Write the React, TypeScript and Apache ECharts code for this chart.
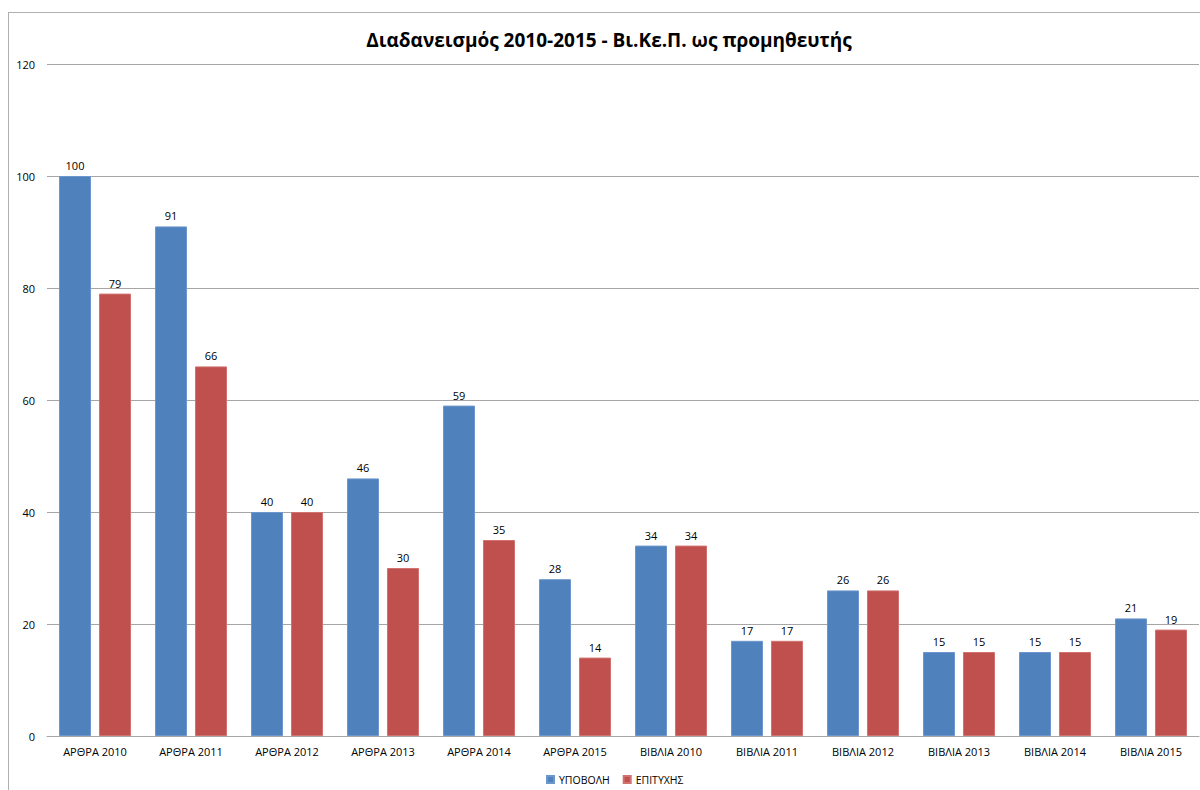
import React, { useEffect, useRef } from "react";
import * as echarts from "echarts";

const categories = [
  "ΑΡΘΡΑ 2010", "ΑΡΘΡΑ 2011", "ΑΡΘΡΑ 2012", "ΑΡΘΡΑ 2013", "ΑΡΘΡΑ 2014", "ΑΡΘΡΑ 2015",
  "ΒΙΒΛΙΑ 2010", "ΒΙΒΛΙΑ 2011", "ΒΙΒΛΙΑ 2012", "ΒΙΒΛΙΑ 2013", "ΒΙΒΛΙΑ 2014", "ΒΙΒΛΙΑ 2015",
];
const submitted = [100, 91, 40, 46, 59, 28, 34, 17, 26, 15, 15, 21];
const successful = [79, 66, 40, 30, 35, 14, 34, 17, 26, 15, 15, 19];
const seriesNames = ["ΥΠΟΒΟΛΗ", "ΕΠΙΤΥΧΗΣ"];
const titleText = "Διαδανεισμός 2010-2015 - Βι.Κε.Π. ως προμηθευτής";

const FONT = "'Open Sans', 'Noto Sans', sans-serif";

export default function App() {
  const ref = useRef<HTMLDivElement>(null);
  useEffect(() => {
    if (!ref.current) return;
    const chart = echarts.init(ref.current, undefined, { renderer: "svg" });
    const label = {
      show: true,
      position: "top" as const,
      distance: 5,
      color: "#000",
      fontSize: 11,
      fontFamily: FONT,
    };
    chart.setOption({
      animation: false,
      backgroundColor: "#fff",
      title: {
        text: titleText,
        left: 595,
        textAlign: "center",
        top: 12,
        textStyle: { fontFamily: FONT, fontSize: 19, fontWeight: "bold", color: "#000" },
      },
      legend: {
        data: seriesNames,
        left: 532,
        top: 756,
        itemWidth: 7,
        itemHeight: 7,
        itemGap: 13,
        icon: "rect",
        textStyle: { fontFamily: FONT, fontSize: 10.5, color: "#000" },
      },
      grid: { left: 38, top: 51, width: 1152, height: 672, containLabel: false },
      xAxis: {
        type: "category",
        data: categories,
        axisTick: { show: false },
        axisLine: { lineStyle: { color: "#a6a6a6", width: 1 } },
        axisLabel: { fontFamily: FONT, fontSize: 11, color: "#000", margin: 10, interval: 0 },
      },
      yAxis: {
        type: "value",
        min: 0,
        max: 120,
        interval: 20,
        axisLine: { show: false },
        axisTick: { show: false },
        axisLabel: { fontFamily: FONT, fontSize: 11, color: "#000", margin: 12 },
        splitLine: { lineStyle: { color: "#a6a6a6", width: 1 } },
      },
      series: [
        {
          name: seriesNames[0],
          type: "bar",
          data: submitted,
          barWidth: 32,
          barGap: "25%",
          itemStyle: { color: "#4F81BD", borderColor: "#6d97cc", borderWidth: 1 },
          label,
        },
        {
          name: seriesNames[1],
          type: "bar",
          data: successful,
          barWidth: 32,
          barGap: "25%",
          itemStyle: { color: "#C0504D", borderColor: "#cf7270", borderWidth: 1 },
          label,
        },
      ],
    });
    return () => chart.dispose();
  }, []);
  return (
    <div
      style={{
        position: "absolute",
        left: 8,
        top: 12,
        width: 1192,
        height: 778,
        boxSizing: "border-box",
        borderLeft: "1px solid #b0b0b0",
        borderTop: "1px solid #b0b0b0",
        background: "#fff",
      }}
    >
      <div ref={ref} style={{ width: 1191, height: 777 }} />
    </div>
  );
}
